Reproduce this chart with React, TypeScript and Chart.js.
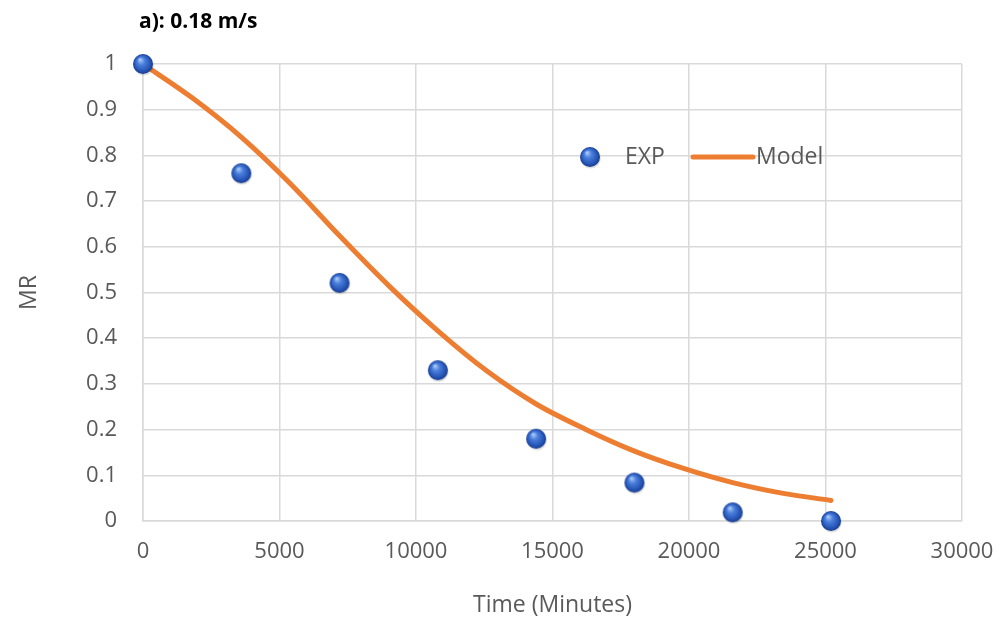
import React, { useEffect, useRef } from "react";
import { Chart, registerables } from "chart.js";
Chart.register(...registerables);

const TITLE = "a): 0.18 m/s";
const X_TITLE = "Time (Minutes)";
const Y_TITLE = "MR";
const EXP_LABEL = "EXP";
const MODEL_LABEL = "Model";

const expTime = [0, 3600, 7200, 10800, 14400, 18000, 21600, 25200];
const expMR = [1, 0.761, 0.521, 0.33, 0.18, 0.084, 0.019, 0];

const modelTime = [0, 1800, 3600, 5400, 7200, 9000, 10800, 12600, 14400, 16200, 18000, 19800, 21600, 23400, 25200];
const modelMR = [1, 0.926, 0.84, 0.738, 0.624, 0.515, 0.416, 0.328, 0.256, 0.201, 0.153, 0.115, 0.084, 0.061, 0.045];

const X_MIN = 0, X_MAX = 30000, X_STEP = 5000;
const Y_MIN = 0, Y_MAX = 1, Y_STEP = 0.1;

const FONT = "'Open Sans', 'DejaVu Sans', sans-serif";
const GRAY = "#595959";
const ORANGE = "#ED7D31";

function makeSphere(r: number): HTMLCanvasElement {
  const s = 2 * r + 4;
  const c = document.createElement("canvas");
  c.width = s;
  c.height = s;
  const g = c.getContext("2d")!;
  const cx = s / 2, cy = s / 2;
  g.fillStyle = "rgba(0,0,0,0.12)";
  g.beginPath();
  g.arc(cx + 0.8, cy + 1.6, r, 0, Math.PI * 2);
  g.fill();
  const grad = g.createRadialGradient(cx - r * 0.3, cy - r * 0.45, r * 0.05, cx, cy, r);
  grad.addColorStop(0, "#a9c8f7");
  grad.addColorStop(0.35, "#4a7fdc");
  grad.addColorStop(0.8, "#2553b5");
  grad.addColorStop(1, "#173c8c");
  g.fillStyle = grad;
  g.beginPath();
  g.arc(cx, cy, r, 0, Math.PI * 2);
  g.fill();
  return c;
}

export default function App() {
  const ref = useRef<HTMLCanvasElement | null>(null);
  useEffect(() => {
    if (!ref.current) return;
    const sphere = makeSphere(10);

    const titlePlugin = {
      id: "customTitle",
      afterDraw(chart: any) {
        const ctx = chart.ctx;
        const a = chart.chartArea;
        ctx.save();
        ctx.font = `bold 21px ${FONT}`;
        ctx.fillStyle = "#000000";
        ctx.textBaseline = "middle";
        ctx.textAlign = "left";
        ctx.fillText(TITLE, a.left - 4, 22);
        ctx.restore();
      },
    };

    const legendPlugin = {
      id: "insideLegend",
      afterDraw(chart: any) {
        const ctx = chart.ctx;
        const a = chart.chartArea;
        const w = a.right - a.left;
        const px = (v: number) => a.left + (v - 143) / 819 * w;
        const y = a.top + (157 - 64) / (521 - 64) * (a.bottom - a.top);
        const x0 = px(590);
        ctx.save();
        ctx.drawImage(sphere, x0 - sphere.width / 2, y - sphere.height / 2);
        ctx.font = `23px ${FONT}`;
        ctx.fillStyle = GRAY;
        ctx.textBaseline = "middle";
        ctx.textAlign = "left";
        ctx.fillText(EXP_LABEL, px(625), y);
        ctx.strokeStyle = ORANGE;
        ctx.lineWidth = 5;
        ctx.lineCap = "round";
        ctx.beginPath();
        ctx.moveTo(px(693), y);
        ctx.lineTo(px(753), y);
        ctx.stroke();
        ctx.fillText(MODEL_LABEL, px(756), y);
        ctx.restore();
      },
    };

    const chart = new Chart(ref.current, {
      type: "scatter",
      data: {
        datasets: [
          {
            label: MODEL_LABEL,
            data: modelTime.map((t, i) => ({ x: t, y: modelMR[i] })),
            showLine: true,
            borderColor: ORANGE,
            borderWidth: 5,
            pointRadius: 0,
            cubicInterpolationMode: "monotone",
            borderCapStyle: "round",
            clip: false as any,
            order: 2,
          },
          {
            label: EXP_LABEL,
            data: expTime.map((t, i) => ({ x: t, y: expMR[i] })),
            pointStyle: sphere as any,
            pointRadius: 10,
            showLine: false,
            clip: false as any,
            order: 1,
          },
        ],
      },
      options: {
        animation: false,
        responsive: false,
        layout: { padding: { top: 64, right: 42, left: 16, bottom: 3 } },
        plugins: {
          legend: { display: false },
          tooltip: { enabled: false },
          title: { display: false },
        },
        scales: {
          x: {
            type: "linear",
            min: X_MIN,
            max: X_MAX,
            ticks: {
              stepSize: X_STEP,
              color: GRAY,
              font: { family: FONT, size: 22 },
              padding: 18,
              maxRotation: 0,
              callback: (v: any) => String(v),
            },
            grid: { color: "#d9d9d9", lineWidth: 1.5, drawTicks: false },
            border: { color: "#d9d9d9", width: 1.5 },
            title: {
              display: true,
              text: X_TITLE,
              color: GRAY,
              font: { family: FONT, size: 23 },
              padding: { top: 10, bottom: 0 },
            },
            afterFit(scale: any) {
              scale.height = 622 - 521 - 3;
              scale.paddingRight = 0;
              scale.paddingLeft = 0;
            },
          },
          y: {
            type: "linear",
            min: Y_MIN,
            max: Y_MAX,
            ticks: {
              stepSize: Y_STEP,
              color: GRAY,
              font: { family: FONT, size: 22 },
              padding: 26,
              callback: (v: any) => String(Math.round(Number(v) * 10) / 10),
            },
            grid: { color: "#d9d9d9", lineWidth: 1.5, drawTicks: false },
            border: { color: "#d9d9d9", width: 1.5 },
            title: {
              display: true,
              text: Y_TITLE,
              color: GRAY,
              font: { family: FONT, size: 23 },
              padding: { top: 0, bottom: 0 },
            },
            afterFit(scale: any) {
              scale.width = 143 - 16;
              scale.paddingTop = 0;
              scale.paddingBottom = 0;
            },
          },
        },
      },
      plugins: [titlePlugin, legendPlugin],
    });
    return () => chart.destroy();
  }, []);

  return (
    <div style={{ position: "fixed", left: 0, top: 0, width: 1004, height: 622, background: "#fff" }}>
      <canvas ref={ref} width={1004} height={622} style={{ width: 1004, height: 622 }} />
    </div>
  );
}
